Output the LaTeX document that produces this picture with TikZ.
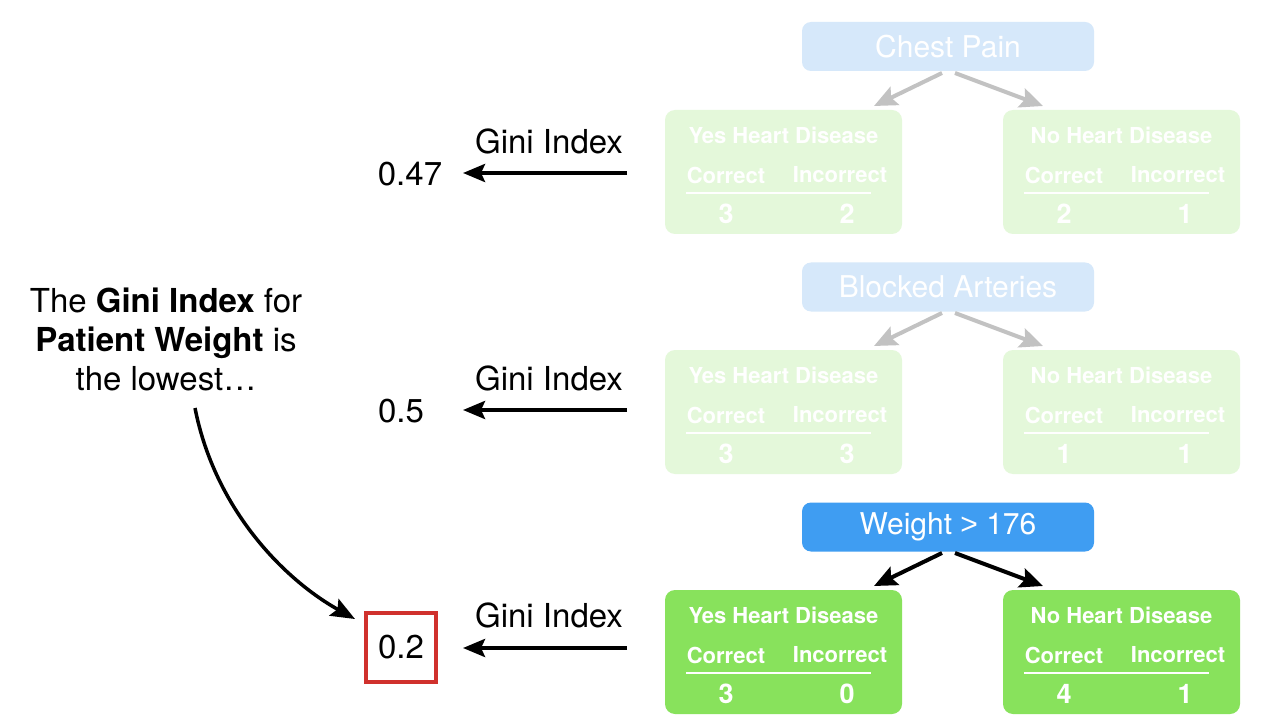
\documentclass[tikz,border=0pt]{standalone}
\usepackage{fontspec}
\setmainfont{TeX Gyre Heros}
\newfontfamily\libsans{Liberation Sans}
\usetikzlibrary{arrows.meta}
\definecolor{fadeblue}{HTML}{D6E8FA}
\definecolor{fadegreen}{HTML}{E4F8DA}
\definecolor{fadegray}{HTML}{C2C2C2}
\definecolor{brightblue}{HTML}{3F9DF2}
\definecolor{brightgreen}{HTML}{88E25C}
\definecolor{boxred}{HTML}{D0312D}
\tikzset{
  parentbox/.style={rounded corners=9pt, minimum width=292pt, minimum height=49pt, inner sep=0pt,
    font=\fontsize{30}{30}\selectfont, text=white},
  leafbox/.style={rounded corners=10pt, minimum width=237pt, minimum height=124pt, inner sep=0pt},
  leaftxt/.style={font=\fontsize{22}{22}\selectfont\bfseries, text=white, inner sep=0pt},
  numtxt/.style={font=\fontsize{27}{27}\selectfont\bfseries, text=white, inner sep=0pt},
  rulew/.style={draw=white, line width=2.5pt},
  faded/.style={fill=fadegreen},
  bright/.style={fill=brightgreen},
  gtxt/.style={font=\fontsize{33}{33}\selectfont, inner sep=0pt},
  garrow/.style={line width=4pt, -{Stealth[length=22pt,width=18pt,inset=4pt]}},
  treearrow/.style={line width=4pt, -{Stealth[length=23pt,width=20pt,inset=4pt]}},
}
\newcommand{\leafcontent}[7]{%
  \node[leafbox,#7] (#1) at (#2+118.5,#3+62) {};
  \node[leaftxt] (#1-h) at (#2+118.5,#3+25) {#4};
  \node[leaftxt] (#1-c) at (#2+61,#3+65) {Correct};
  \node[leaftxt] (#1-i) at (#2+175,#3+65) {Incorrect};
  \coordinate (#1-ra) at (#2+21,#3+83);
  \coordinate (#1-rb) at (#2+206,#3+83);
  \draw[rulew] (#1-ra) -- (#1-rb);
  \node[numtxt] (#1-a) at (#2+61,#3+104) {#5};
  \node[numtxt] (#1-b) at (#2+182,#3+104) {#6};
}
\begin{document}
\begin{tikzpicture}[x=1pt,y=-1pt]
\useasboundingbox (0,0) rectangle (1280,722);
\fill[white] (0,0) rectangle (1280,722);

% Tree 1
\node[parentbox, fill=fadeblue] (p1) at (948,46.5) {Chest Pain};
\leafcontent{l1}{665}{110}{Yes Heart Disease}{3}{2}{faded}
\leafcontent{r1}{1003}{110}{No Heart Disease}{2}{1}{faded}
\coordinate (p1a) at (942,73); \coordinate (p1b) at (955,73);
\coordinate (l1t) at (874,106); \coordinate (r1t) at (1043,106);
\draw[treearrow, draw=fadegray] (p1a) -- (l1t);
\draw[treearrow, draw=fadegray] (p1b) -- (r1t);

% Tree 2
\node[parentbox, fill=fadeblue] (p2) at (948,287) {Blocked Arteries};
\leafcontent{l2}{665}{350}{Yes Heart Disease}{3}{3}{faded}
\leafcontent{r2}{1003}{350}{No Heart Disease}{1}{1}{faded}
\coordinate (p2a) at (942,313); \coordinate (p2b) at (955,313);
\coordinate (l2t) at (874,346); \coordinate (r2t) at (1043,346);
\draw[treearrow, draw=fadegray] (p2a) -- (l2t);
\draw[treearrow, draw=fadegray] (p2b) -- (r2t);

% Tree 3
\node[parentbox, fill=brightblue] (p3) at (948,527) {Weight {\libsans >} 176};
\leafcontent{l3}{665}{590}{Yes Heart Disease}{3}{0}{bright}
\leafcontent{r3}{1003}{590}{No Heart Disease}{4}{1}{bright}
\coordinate (p3a) at (942,553); \coordinate (p3b) at (955,553);
\coordinate (l3t) at (874,586); \coordinate (r3t) at (1043,586);
\draw[treearrow] (p3a) -- (l3t);
\draw[treearrow] (p3b) -- (r3t);

% Gini labels and arrows
\node[gtxt] (g1) at (549,141) {Gini Index};
\node[gtxt] (g2) at (549,378) {Gini Index};
\node[gtxt] (g3) at (549,615) {Gini Index};
\node[gtxt] (v1) at (410,174) {0.47};
\node[gtxt] (v2) at (401,411) {0.5};
\node[gtxt, draw=boxred, line width=4pt, minimum width=70pt, minimum height=69pt] (v3) at (401,647.5) {0.2};
\coordinate (s1) at (627,173); \coordinate (e1) at (463,173);
\coordinate (s2) at (627,410); \coordinate (e2) at (463,410);
\coordinate (s3) at (627,648); \coordinate (e3) at (463,648);
\draw[garrow] (s1) -- (e1);
\draw[garrow] (s2) -- (e2);
\draw[garrow] (s3) -- (e3);

% Left text
\node[gtxt, align=center] (note) at (166,339) {The \textbf{Gini Index} for\\[6pt]\textbf{Patient Weight} is\\[6pt]the lowest\dots};
\coordinate (cs) at (195,408);
\coordinate (ce) at (355,619);
\draw[line width=3.5pt, -{Stealth[length=24pt,width=19pt,inset=4pt]}] (cs) .. controls (215,510) and (285,580) .. (ce);
\end{tikzpicture}
\end{document}
